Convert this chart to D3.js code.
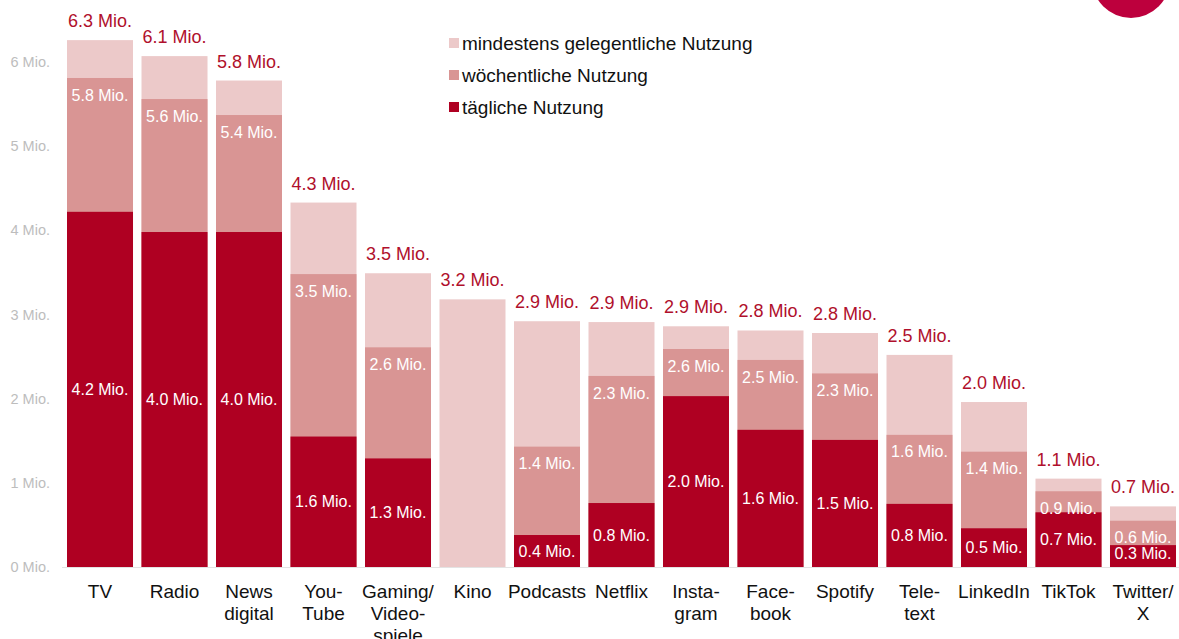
<!DOCTYPE html>
<html>
<head>
<meta charset="utf-8">
<script src="https://cdn.jsdelivr.net/npm/d3@7"></script>
<style>
  body { margin: 0; background: #fff; }
  text { font-family: "Liberation Sans", Arial, sans-serif; }
</style>
</head>
<body>
<div id="chart-area"></div>
<script>
// Kategorien (mehrzeilig)
var categories = [["TV"], ["Radio"], ["News", "digital"], ["You-", "Tube"], ["Gaming/", "Video-", "spiele"],
    ["Kino"], ["Podcasts"], ["Netflix"], ["Insta-", "gram"], ["Face-", "book"], ["Spotify"],
    ["Tele-", "text"], ["LinkedIn"], ["TikTok"], ["Twitter/", "X"]];

// Werte in Mio. (kumuliert: täglich <= wöchentlich <= gelegentlich)
var daily      = [4.22, 3.98, 3.98, 1.55, 1.29, null, 0.38, 0.76, 2.03, 1.63, 1.51, 0.75, 0.46, 0.65, 0.26];
var weekly     = [5.81, 5.56, 5.37, 3.48, 2.61, null, 1.43, 2.27, 2.59, 2.46, 2.30, 1.57, 1.37, 0.90, 0.55];
var occasional = [6.26, 6.07, 5.78, 4.33, 3.49, 3.18, 2.92, 2.91, 2.86, 2.81, 2.78, 2.52, 1.96, 1.05, 0.72];

var yTicks = [0, 1, 2, 3, 4, 5, 6];
var legendLabels = ["mindestens gelegentliche Nutzung", "wöchentliche Nutzung", "tägliche Nutzung"];
var colors = ["#ecc9c9", "#d99594", "#af0022"];

var width = 1179, height = 639;

var svg = d3.select("#chart-area")
    .append("svg")
        .attr("width", width)
        .attr("height", height);

// Logo-Kreis oben rechts
svg.append("circle")
    .attr("cx", 1131)
    .attr("cy", -21)
    .attr("r", 39)
    .attr("fill", "#bd003d");

var names = categories.map(c => c.join(" "));

var x = d3.scaleBand()
    .domain(names)
    .range([67, 1176])
    .paddingInner(0.114)
    .paddingOuter(0);

var y = d3.scaleLinear()
    .domain([0, 6])
    .range([567, 62]);

var fmt = v => v.toFixed(1) + " Mio.";

// y-Achse
var yAxis = svg.append("g")
    .attr("transform", "translate(50,0)")
    .call(d3.axisLeft(y).tickValues(yTicks).tickSize(0).tickPadding(0).tickFormat(d => d + " Mio."));
yAxis.select(".domain").remove();
yAxis.selectAll("text")
    .attr("fill", "#bdbdbd")
    .style("font-size", "14.5px")
    .style("font-family", "'Liberation Sans', Arial, sans-serif");

// Grundlinie
svg.append("line")
    .attr("x1", 62).attr("x2", 1179)
    .attr("y1", y(0) + 0.5).attr("y2", y(0) + 0.5)
    .attr("stroke", "#e3e3e3");

var data = names.map((n, i) => ({
    name: n, lines: categories[i],
    daily: daily[i], weekly: weekly[i], occasional: occasional[i]
}));

var bars = svg.selectAll("g.bar")
        .data(data)
    .enter()
        .append("g")
        .attr("class", "bar");

// gelegentlich (ganze Höhe)
bars.append("rect")
    .attr("x", d => x(d.name))
    .attr("width", x.bandwidth())
    .attr("y", d => y(d.occasional))
    .attr("height", d => y(0) - y(d.occasional))
    .attr("fill", colors[0]);

// wöchentlich
bars.filter(d => d.weekly != null).append("rect")
    .attr("x", d => x(d.name))
    .attr("width", x.bandwidth())
    .attr("y", d => y(d.weekly))
    .attr("height", d => y(0) - y(d.weekly))
    .attr("fill", colors[1]);

// täglich
bars.filter(d => d.daily != null).append("rect")
    .attr("x", d => x(d.name))
    .attr("width", x.bandwidth())
    .attr("y", d => y(d.daily))
    .attr("height", d => y(0) - y(d.daily))
    .attr("fill", colors[2]);

// Labels
bars.append("text")
    .attr("x", d => x(d.name) + x.bandwidth() / 2)
    .attr("y", d => y(d.occasional) - 13)
    .attr("text-anchor", "middle")
    .attr("fill", "#b0102c")
    .style("font-size", "18px")
    .text(d => fmt(d.occasional));

bars.filter(d => d.weekly != null).append("text")
    .attr("x", d => x(d.name) + x.bandwidth() / 2)
    .attr("y", d => y(d.weekly) + 17)
    .attr("dy", "0.35em")
    .attr("text-anchor", "middle")
    .attr("fill", "#fff")
    .style("font-size", "16px")
    .text(d => fmt(d.weekly));

bars.filter(d => d.daily != null).append("text")
    .attr("x", d => x(d.name) + x.bandwidth() / 2)
    .attr("y", d => Math.min((y(d.daily) + y(0)) / 2, y(0) - 14))
    .attr("dy", "0.35em")
    .attr("text-anchor", "middle")
    .attr("fill", "#fff")
    .style("font-size", "16px")
    .text(d => fmt(d.daily));

// Kategorien
bars.append("text")
    .attr("x", d => x(d.name) + x.bandwidth() / 2)
    .attr("y", 598)
    .attr("text-anchor", "middle")
    .attr("fill", "#111")
    .style("font-size", "19px")
    .selectAll("tspan")
    .data(d => d.lines)
    .enter()
    .append("tspan")
        .attr("x", function() { return this.parentNode.getAttribute("x"); })
        .attr("dy", (d, i) => i === 0 ? 0 : 22)
        .text(d => d);

// Legende
var legend = svg.append("g").attr("transform", "translate(449,43)");
legendLabels.forEach((l, i) => {
    legend.append("rect")
        .attr("x", 0).attr("y", i * 32 - 5)
        .attr("width", 10).attr("height", 10)
        .attr("fill", colors[i]);
    legend.append("text")
        .attr("x", 13).attr("y", i * 32)
        .attr("dy", "0.35em")
        .attr("fill", "#111")
        .style("font-size", "19px")
        .text(l);
});
</script>
</body>
</html>
